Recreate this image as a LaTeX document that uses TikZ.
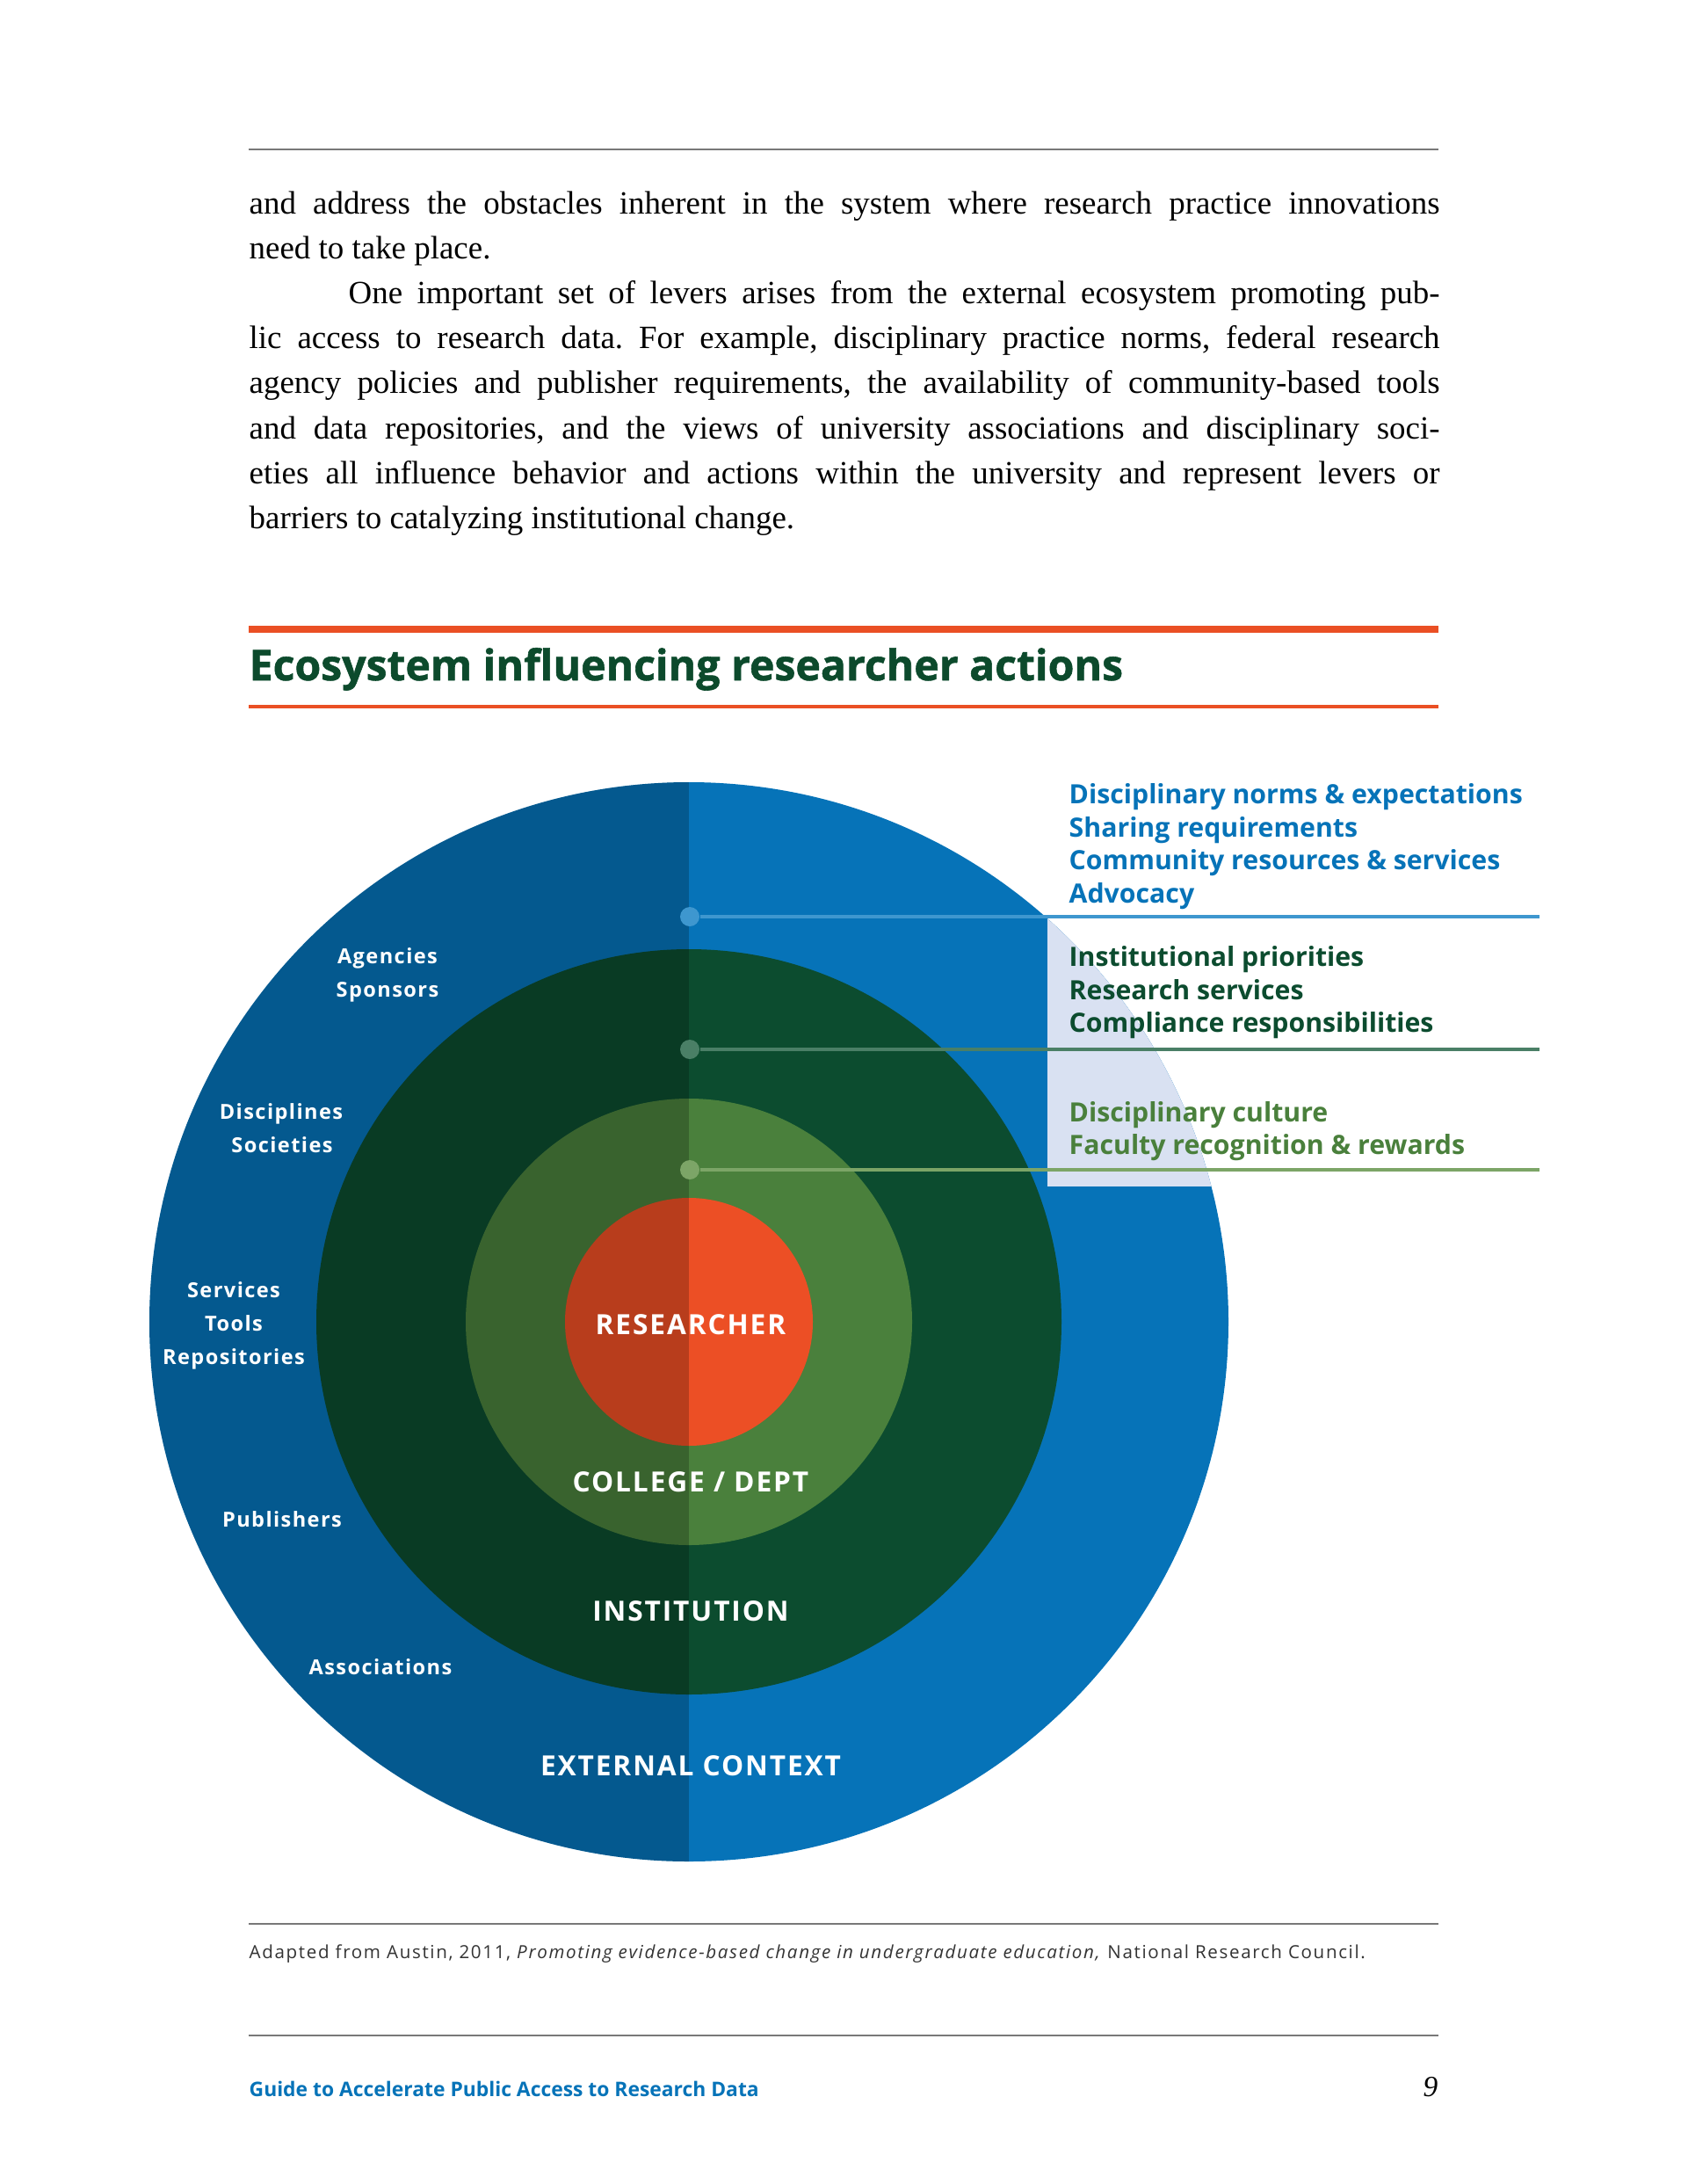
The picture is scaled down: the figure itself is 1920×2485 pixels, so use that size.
\documentclass[tikz,border=0pt]{standalone}
\usepackage{fontspec}
\setmainfont{Liberation Serif}
\newfontfamily\sidefont{Open Sans}
\newfontfamily\titlefont[BoldFeatures={FakeBold=1.2}]{Open Sans}
\newfontfamily\labelfont[LetterSpace=6]{Open Sans}
\newfontfamily\capfont[LetterSpace=8]{Open Sans}
\usetikzlibrary{calc}
\frenchspacing
\definecolor{extblue}{RGB}{6,115,184}
\definecolor{instgreen}{RGB}{12,76,47}
\definecolor{deptgreen}{RGB}{74,128,60}
\definecolor{resred}{RGB}{236,79,37}
\definecolor{titlegreen}{RGB}{12,74,44}
\definecolor{ruleorange}{RGB}{234,79,36}
\definecolor{dotblue}{RGB}{62,151,207}
\definecolor{dotdark}{RGB}{74,127,102}
\definecolor{dotlight}{RGB}{124,165,103}
\definecolor{panelfill}{RGB}{217,225,242}
\definecolor{capgrey}{RGB}{51,51,51}
\definecolor{rulegrey}{RGB}{120,120,120}

\begin{document}
\begin{tikzpicture}[x=0.01cm,y=-0.01cm,
    bodyline/.style={anchor=base west,inner sep=0pt,font=\fontsize{10.5}{12}\selectfont},
    ringlabel/.style={anchor=base,inner sep=0pt,text=white,font=\labelfont\bfseries\fontsize{9}{10}\selectfont},
    sidelabel/.style={anchor=base,inner sep=0pt,text=white,font=\labelfont\bfseries\fontsize{6.7}{7}\selectfont},
    lever/.style={anchor=base west,inner sep=0pt,font=\sidefont\bfseries\fontsize{8.6}{10}\selectfont},
    dot/.style={circle,fill,minimum size=0.22cm,inner sep=0pt},
    greyrule/.style={rulegrey,line width=0.6pt}]
    \useasboundingbox (0,0) rectangle (1920,2485);

    % running text
    \draw[greyrule] (283,170) -- (1637,170);
    \node[bodyline] (p1) at (283,244) {\makebox[13.54cm][s]{and address the obstacles inherent in the system where research practice innovations}};
    \node[bodyline] (p2) at (283,295) {need to take place.};
    \node[bodyline] (p3) at (396,346) {\makebox[12.41cm][s]{One important set of levers arises from the external ecosystem promoting pub-}};
    \node[bodyline] (p4) at (283,397) {\makebox[13.54cm][s]{lic access to research data. For example, disciplinary practice norms, federal research}};
    \node[bodyline] (p5) at (283,448) {\makebox[13.54cm][s]{agency policies and publisher requirements, the availability of community-based tools}};
    \node[bodyline] (p6) at (283,499) {\makebox[13.54cm][s]{and data repositories, and the views of university associations and disciplinary soci-}};
    \node[bodyline] (p7) at (283,550) {\makebox[13.54cm][s]{eties all influence behavior and actions within the university and represent levers or}};
    \node[bodyline] (p8) at (283,601) {barriers to catalyzing institutional change.};

    % title
    \draw[ruleorange,line width=2pt] (283,716) -- (1637,716);
    \node[anchor=base west,inner sep=0pt,text=titlegreen,font=\titlefont\bfseries\fontsize{13.7}{15}\selectfont] (title) at (283,774) {Ecosystem influencing researcher actions};
    \draw[ruleorange,line width=1pt] (283,804) -- (1637,804);

    % rings
    \coordinate (ctr) at (784,1504);
    \fill[extblue] (ctr) circle[radius=614];
    \begin{scope}
        \clip (ctr) circle[radius=614];
        \fill[panelfill] (1192,1045) rectangle (1760,1350);
    \end{scope}
    \fill[instgreen] (ctr) circle[radius=424];
    \fill[deptgreen] (ctr) circle[radius=254];
    \fill[resred] (ctr) circle[radius=141];
    \begin{scope}
        \clip (ctr) circle[radius=614];
        \fill[black,opacity=0.22] (160,880) rectangle (784,2130);
    \end{scope}

    \node[ringlabel] (res) at (786,1518) {RESEARCHER};
    \node[ringlabel] (dept) at (786,1697) {COLLEGE / DEPT};
    \node[ringlabel] (inst) at (786,1844) {INSTITUTION};
    \node[ringlabel] (ext) at (786,2020) {EXTERNAL CONTEXT};

    \foreach \x/\y/\t [count=\i] in {441/1096/Agencies, 441/1134/Sponsors,
        320/1273/Disciplines, 321/1311/Societies,
        266/1476/Services, 266/1514/Tools, 266/1552/Repositories,
        321/1737/Publishers, 433/1905/Associations}
        \node[sidelabel] (side\i) at (\x,\y) {\t};

    % levers
    \node[dot,dotblue] (dotext) at (785,1043) {};
    \node[dot,dotdark] (dotinst) at (785,1194) {};
    \node[dot,dotlight] (dotdept) at (785,1331) {};
    \coordinate (endext) at (1752,1043);
    \coordinate (endinst) at (1752,1194);
    \coordinate (enddept) at (1752,1331);
    \draw[dotblue,line width=1pt] (dotext) -- (endext);
    \draw[dotdark,line width=1pt] (dotinst) -- (endinst);
    \draw[dotlight,line width=1pt] (dotdept) -- (enddept);

    \node[lever,text=extblue] (ext1) at (1216,914) {Disciplinary norms \& expectations};
    \node[lever,text=extblue] (ext2) at (1216,952) {Sharing requirements};
    \node[lever,text=extblue] (ext3) at (1216,989) {Community resources \& services};
    \node[lever,text=extblue] (ext4) at (1216,1027) {Advocacy};
    \node[lever,text=instgreen] (inst1) at (1216,1099) {Institutional priorities};
    \node[lever,text=instgreen] (inst2) at (1216,1137) {Research services};
    \node[lever,text=instgreen] (inst3) at (1216,1174) {Compliance responsibilities};
    \node[lever,text=deptgreen] (dept1) at (1216,1276) {Disciplinary culture};
    \node[lever,text=deptgreen] (dept2) at (1216,1313) {Faculty recognition \& rewards};

    % source and footer
    \draw[greyrule] (283,2189) -- (1637,2189);
    \node[anchor=base west,inner sep=0pt,text=capgrey,font=\capfont\fontsize{5.85}{6.5}\selectfont] (source) at (283,2228)
        {Adapted from Austin, 2011, \textit{Promoting evidence-based change in undergraduate education,} National Research Council.};
    \draw[greyrule] (283,2316) -- (1637,2316);
    \node[anchor=base west,inner sep=0pt,text=extblue,font=\sidefont\bfseries\fontsize{6.5}{7}\selectfont] (guide) at (283,2385) {Guide to Accelerate Public Access to Research Data};
    \node[anchor=base east,inner sep=0pt,font=\itshape\fontsize{9.5}{11}\selectfont] (pagenum) at (1637,2385) {9};
\end{tikzpicture}
\end{document}
